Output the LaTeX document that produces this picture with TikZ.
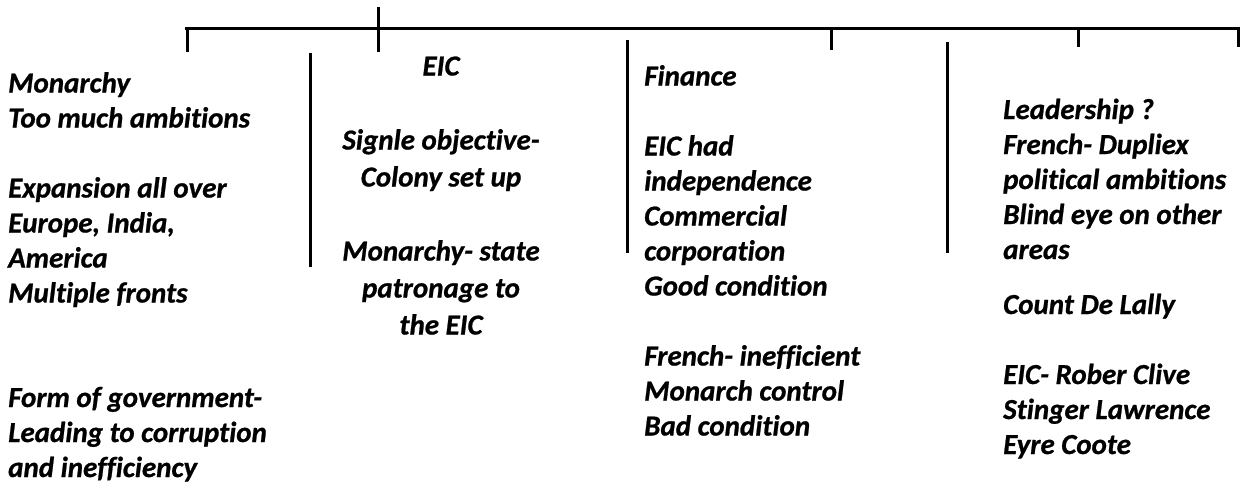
\documentclass[tikz,border=0pt]{standalone}
\usepackage{fontspec}
\setmainfont{Carlito}[Ligatures=NoCommon,BoldItalicFeatures={FakeBold=0.8}]
\begin{document}
\begin{tikzpicture}[x=1pt,y=-1pt,
  rule/.style={line width=3pt,black},
  txt/.style={inner sep=0pt,font=\fontsize{29}{35}\selectfont\bfseries\itshape},
  lblock/.style={txt,anchor=base west},
  cblock/.style={txt,anchor=base,font=\fontsize{29}{37}\selectfont\bfseries\itshape}]
\useasboundingbox (0,0) rectangle (1247,490);
% bar
\coordinate (hl) at (185,28);
\coordinate (hr) at (1239.5,28);
\draw[rule] (hl) -- (hr);
\coordinate (t1a) at (187,26.5); \coordinate (t1b) at (187,52);
\coordinate (t2a) at (378,7);    \coordinate (t2b) at (378,52);
\coordinate (t3a) at (831,28);   \coordinate (t3b) at (831,50);
\coordinate (t4a) at (1078,28);  \coordinate (t4b) at (1078,47);
\coordinate (t5a) at (1238,26.5);  \coordinate (t5b) at (1238,47);
\foreach \i in {1,...,5} \draw[rule] (t\i a) -- (t\i b);
% separators
\coordinate (s1a) at (310,53);  \coordinate (s1b) at (310,267);
\coordinate (s2a) at (627,40);  \coordinate (s2b) at (627,253);
\coordinate (s3a) at (947,42);  \coordinate (s3b) at (947,253);
\foreach \i in {1,2,3} \draw[rule] (s\i a) -- (s\i b);
% texts
\node[lblock] (c1a) at (8,92.5) {\begin{tabular}[t]{@{}l@{}}Monarchy\\Too much ambitions\\ \\Expansion all over\\Europe, India,\\America\\Multiple fronts\end{tabular}};
\node[lblock] (c1b) at (8,407) {\begin{tabular}[t]{@{}l@{}}Form of government-\\Leading to corruption\\and inefficiency\end{tabular}};
\node[cblock] (c2) at (441,75.5) {\begin{tabular}[t]{@{}c@{}}EIC\\ \\Signle objective-\\Colony set up\\ \\Monarchy- state\\patronage to\\the EIC\end{tabular}};
\node[lblock] (c3) at (644,85.5) {\begin{tabular}[t]{@{}l@{}}Finance\\ \\EIC had\\independence\\Commercial\\corporation\\Good condition\\ \\French- inefficient\\Monarch control\\Bad condition\end{tabular}};
\node[lblock] (c4a) at (1003,119) {\begin{tabular}[t]{@{}l@{}}Leadership ?\\French- Dupliex\\political ambitions\\Blind eye on other\\areas\end{tabular}};
\node[lblock] (c4b) at (1003,314) {\begin{tabular}[t]{@{}l@{}}Count De Lally\\ \\EIC- Rober Clive\\Stinger Lawrence\\Eyre Coote\end{tabular}};
\end{tikzpicture}
\end{document}
